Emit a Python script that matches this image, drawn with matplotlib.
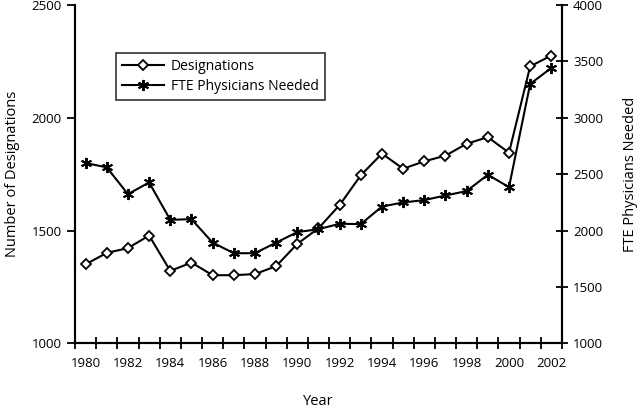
import matplotlib
matplotlib.use("Agg")
import matplotlib.pyplot as plt
from matplotlib.ticker import FixedLocator

years = list(range(1980, 2003))
designations = [1350, 1401, 1422, 1478, 1321, 1358, 1302, 1302, 1307, 1342,
                1441, 1510, 1613, 1745, 1841, 1774, 1807, 1832, 1885, 1914,
                1845, 2228, 2276]
fte_needed = [2599, 2560, 2323, 2426, 2095, 2101, 1893, 1799, 1799, 1893,
              1986, 2012, 2060, 2057, 2213, 2249, 2270, 2311, 2350, 2495,
              2385, 3300, 3442]
year_labels = [str(y) for y in years if y % 2 == 0]

plt.rcParams['font.family'] = ['Open Sans', 'DejaVu Sans']

fig = plt.figure(figsize=(6.4, 4.09), dpi=100)
ax = fig.add_axes([0.1172, 0.1606, 0.878 - 0.1172, 0.9878 - 0.1606])
ax2 = ax.twinx()

x = list(range(len(years)))
l1, = ax.plot(x, designations, color='black', lw=1.5, marker='D', ms=5.5,
              mfc='white', mec='black', mew=1.3, label='Designations')
l2, = ax2.plot(x, fte_needed, color='black', lw=1.5, marker=(6, 2, 0), ms=8,
               mec='black', mew=1.4, label='FTE Physicians Needed')

ax.set_xlim(-0.5, len(years) - 0.5)
ax.set_ylim(1000, 2500)
ax2.set_ylim(1000, 4000)
ax.set_yticks([1000, 1500, 2000, 2500])
ax2.set_yticks([1000, 1500, 2000, 2500, 3000, 3500, 4000])

major = [i for i, y in enumerate(years) if y % 2 == 0]
ax.set_xticks(major)
ax.set_xticklabels(year_labels)
ax.xaxis.set_minor_locator(FixedLocator([i - 0.5 for i in range(len(years) + 1)]))
ax.tick_params(axis='x', which='major', length=0, labelsize=9.5, pad=10)
ax.tick_params(axis='x', which='minor', direction='inout', length=9, width=1.3)
ax.tick_params(axis='y', direction='out', length=6, width=1.3, labelsize=9.5)
ax2.tick_params(axis='y', direction='inout', length=9, width=1.3, labelsize=9.5)

for a in (ax, ax2):
    for s in a.spines.values():
        s.set_linewidth(1.5)
    a.spines['top'].set_visible(False)

ax.set_xlabel('Year', fontsize=10.5, labelpad=17)
ax.set_ylabel('Number of Designations', fontsize=10.5, labelpad=8)
ax2.set_ylabel('FTE Physicians Needed', fontsize=10.5, rotation=90, labelpad=14)

leg = ax.legend(handles=[l1, l2], loc='upper left', bbox_to_anchor=(0.084, 0.858),
                frameon=True, fancybox=False, edgecolor='black', fontsize=10,
                handlelength=3.0, borderpad=0.45, labelspacing=0.35,
                handletextpad=0.5, borderaxespad=0)
leg.get_frame().set_linewidth(1.2)

fig.savefig('out.png', dpi=100)
